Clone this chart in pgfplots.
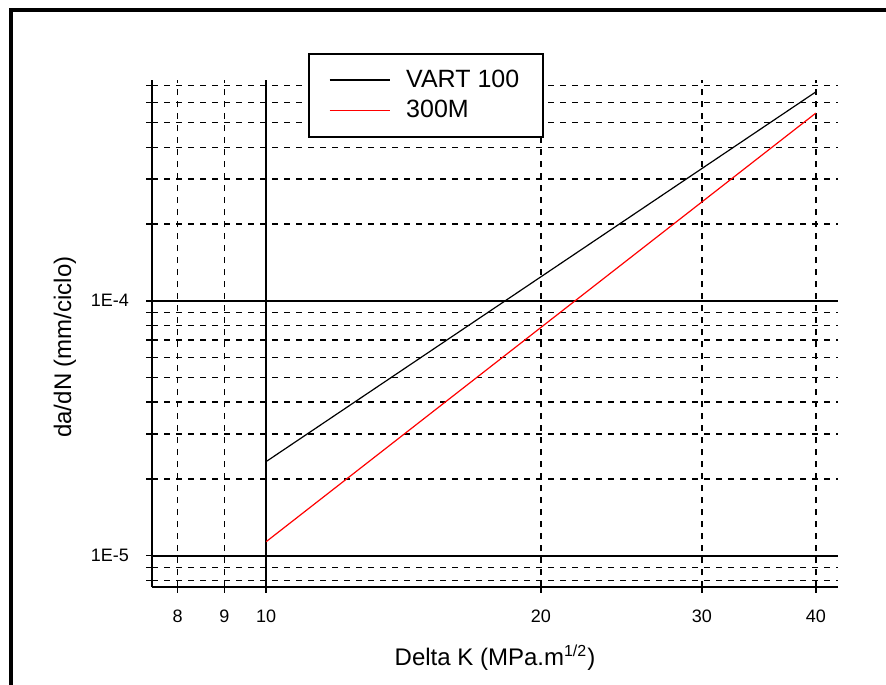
\documentclass[border=0pt]{standalone}
\usepackage{pgfplots}
\pgfplotsset{compat=1.18}
\usepackage{fontspec}
\setmainfont{Liberation Sans}

\begin{document}
\begin{tikzpicture}[x=1pt,y=1pt]
  \useasboundingbox (0,0) rectangle (443,342);
  % page frame (top and left edges)
  \draw[line width=2pt] (5.5,-1) -- (5.5,337) -- (444,337);

  \begin{axis}[
    at={(76pt,48.5pt)}, anchor=south west,
    scale only axis,
    width=343pt, height=253.7pt,
    xmode=log, ymode=log,
    xmin=7.5, xmax=42.3,
    ymin=7.536e-6, ymax=7.375e-4,
    axis x line*=bottom, axis y line*=left,
    axis line style={line width=1pt, -},
    xtick={10},
    xticklabels={10},
    extra x ticks={8,9,20,30,40},
    extra x tick labels={8,9,20,30,40},
    extra x tick style={major grid style={black, dash pattern=on 3pt off 3pt, line width=0.8pt}},
    ytick={1e-5,1e-4},
    yticklabels={1E-5,1E-4},
    minor ytick={8e-6,9e-6,2e-5,3e-5,4e-5,5e-5,6e-5,7e-5,8e-5,9e-5,2e-4,3e-4,4e-4,5e-4,6e-4,7e-4},
    grid=both,
    major grid style={black, solid, line width=0.9pt},
    minor grid style={black, dash pattern=on 3pt off 3pt, line width=0.8pt},
    tick align=center,
    major tick length=6pt, minor tick length=6pt,
    tick style={black, line width=0.8pt},
    /pgf/number format/assume math mode=true,
    ticklabel style={font=\fontsize{9}{10}\selectfont},
    xticklabel style={yshift=-5pt},
    yticklabel style={xshift=-5pt},
    xlabel={Delta K (MPa.m\textsuperscript{1/2})},
    ylabel={da/dN (mm/ciclo)},
    label style={font=\fontsize{12}{14}\selectfont},
    xlabel style={at={(axis description cs:0.5,-0.1537)}, anchor=base},
    ylabel style={at={(axis description cs:-0.127,0.473)}, anchor=center},
    legend style={at={(axis description cs:0.2274,1.053)}, anchor=north west,
      draw=black, line width=1pt, font=\fontsize{12.5}{14}\selectfont,
      inner xsep=10pt, inner ysep=6pt, row sep=1pt, column sep=6pt},
    legend cell align=left,
    legend image code/.code={\draw[#1, line width=0.6pt] (1pt,0pt) -- (31pt,0pt);},
  ]
    \addplot[black, line width=0.6pt] coordinates {(10,2.34e-5) (40,6.6e-4)};
    \addlegendentry{VART 100}
    \addplot[red, line width=0.6pt] coordinates {(10,1.135e-5) (40,5.45e-4)};
    \addlegendentry{300M}
  \end{axis}
\end{tikzpicture}
\end{document}
